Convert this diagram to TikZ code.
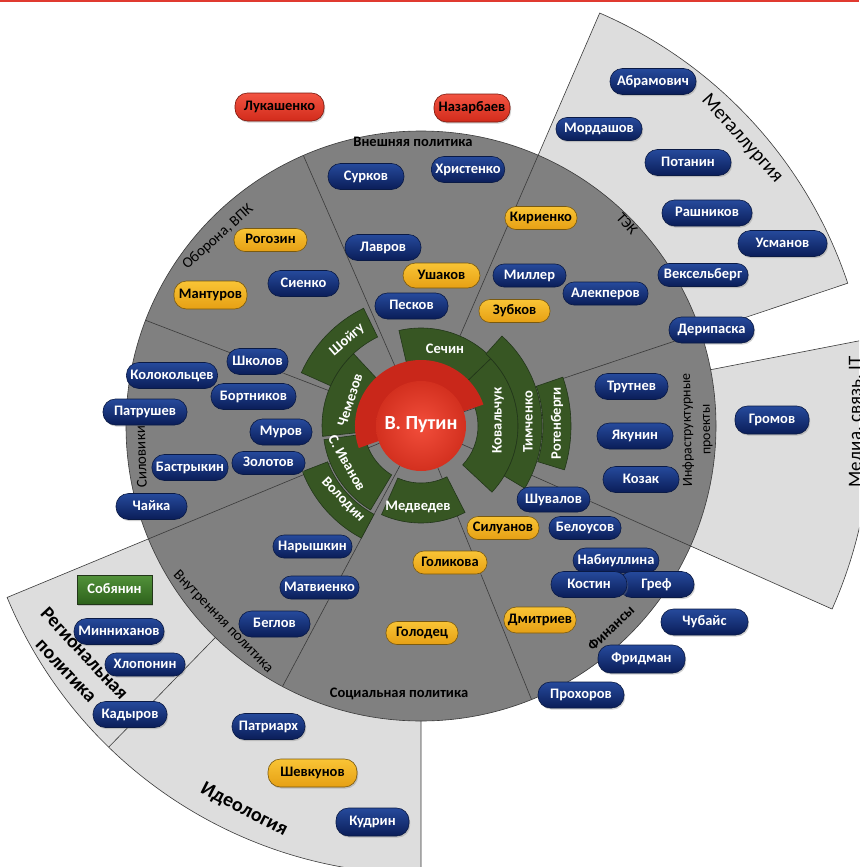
\documentclass[tikz,border=0pt]{standalone}
\usepackage{fontspec}
\setmainfont{Carlito}
\usetikzlibrary{shadows}
\definecolor{bgray}{HTML}{808080}
\definecolor{lgray}{HTML}{DDDDDD}
\definecolor{edgec}{HTML}{3A3A3A}
\definecolor{gfill}{HTML}{375623}
\definecolor{gedge}{HTML}{22361A}
\definecolor{dred}{HTML}{C9271A}
\definecolor{rin}{HTML}{F24E3B}
\definecolor{rout}{HTML}{D3301F}
\definecolor{btop}{HTML}{264A9C}
\definecolor{bbot}{HTML}{0A1D58}
\definecolor{bedge}{HTML}{0A1A45}
\definecolor{ytop}{HTML}{F9C435}
\definecolor{ybot}{HTML}{E6A014}
\definecolor{yedge}{HTML}{7A5A10}
\definecolor{rtop}{HTML}{F25442}
\definecolor{rbot}{HTML}{D22B1B}
\definecolor{redge}{HTML}{7A1A10}
\definecolor{sgtop}{HTML}{52923A}
\definecolor{sgbot}{HTML}{2E621C}
\definecolor{topline}{HTML}{E03A30}
\newcommand\annsec[4]{(#1:#3) arc[start angle=#1,end angle=#2,radius=#3] -- (#2:#4) arc[start angle=#2,end angle=#1,radius=#4] -- cycle}
\tikzset{
  pill/.style={rectangle, rounded corners=12.5pt, minimum height=26pt, inner xsep=4pt, inner ysep=0pt,
    text height=10.5pt, text depth=3pt, font=\fontsize{14.5}{15}\selectfont\bfseries, line width=0.6pt,
    drop shadow={shadow xshift=1.2pt, shadow yshift=-1.6pt, opacity=0.35}},
  sm/.style={minimum height=23pt, rounded corners=11pt},
  bp/.style={pill, draw=bedge, top color=btop, bottom color=bbot, text=white},
  yp/.style={pill, draw=yedge, top color=ytop, bottom color=ybot, text=black},
  rp/.style={pill, draw=redge, top color=rtop, bottom color=rbot, text=black},
  gp/.style={rectangle, draw=gedge, line width=0.6pt, top color=sgtop, bottom color=sgbot, text=white,
    minimum width=75pt, minimum height=29pt, text height=10.5pt, text depth=3pt,
    font=\fontsize{14.5}{15}\selectfont\bfseries,
    drop shadow={shadow xshift=1.2pt, shadow yshift=-1.6pt, opacity=0.35}},
  outersec/.style={fill=lgray, draw=edgec, line width=0.6pt},
  divline/.style={draw=edgec, line width=0.6pt},
  gblock/.style={fill=gfill, draw=gedge, line width=0.6pt},
  gtext/.style={text=white, font=\fontsize{14.5}{15}\selectfont\bfseries, inner sep=0pt},
  lab/.style={text=black, font=\fontsize{15}{17}\selectfont, inner sep=0pt},
  blab/.style={text=black, font=\fontsize{14.5}{16}\selectfont\bfseries, inner sep=0pt},
  biglab/.style={text=black, font=\fontsize{20}{23}\selectfont, inner sep=0pt},
  bigblab/.style={text=black, font=\fontsize{20}{23}\selectfont\bfseries, inner sep=0pt},
}
\begin{document}
\begin{tikzpicture}[x=1pt,y=-1pt]
\useasboundingbox (0,0) rectangle (859,867);
\fill[white] (0,0) rectangle (859,867);
\begin{scope}
\clip (0,0) rectangle (859,867);
\begin{scope}[shift={(421,426)}, y=1pt]
  % outer light sectors
  \filldraw[outersec] (0,0) -- (18.5:450) arc[start angle=18.5, end angle=66.6, radius=450] -- cycle;
  \filldraw[outersec] (0,0) -- (-24:450) arc[start angle=-24, end angle=11, radius=450] -- cycle;
  \filldraw[outersec] (0,0) -- (202.5:448) arc[start angle=202.5, end angle=270, radius=448] -- cycle;
  \draw[divline] (225.8:290) -- (225.8:448);
  % big circle
  \filldraw[fill=bgray, draw=edgec, line width=0.6pt] (0,0) circle[radius=295];
  % dividers
  \foreach \a in {113.5, 66.6, 18.5, -24, -68, 242, 202.5, 159} {
    \draw[divline] (\a:45) -- (\a:295);
  }
  % green blocks
  \filldraw[gblock] \annsec{44}{103}{57}{98};
  \filldraw[gblock] \annsec{-43}{44}{57}{97};
  \filldraw[gblock] \annsec{133}{186}{57}{99};
  \filldraw[gblock] \annsec{188}{239}{57}{98};
  \filldraw[gblock] \annsec{246}{297}{57}{97};
  \filldraw[gblock] \annsec{116}{156}{99}{131};
  \filldraw[gblock] \annsec{201}{242}{100}{127};
  \filldraw[gblock] \annsec{-31}{48}{97}{121};
  \filldraw[gblock] \annsec{-17}{19}{122}{150};
  % red centre
  \fill[dred] \annsec{19}{199.5}{44}{66};
  \shade[inner color=rin, outer color=rout] (0,0) circle[radius=45];
\end{scope}
\node[text=white, font=\fontsize{20}{22}\selectfont\bfseries] (putin) at (421,425) {В. Путин};
% green block texts
\node[gtext] (sechin) at (445,349) {Сечин};
\node[gtext, rotate=90] (kovalchuk) at (498,420) {Ковальчук};
\node[gtext, rotate=90] (timchenko) at (528,422) {Тимченко};
\node[gtext, rotate=90] (rotenberg) at (557,423) {Ротенберги};
\node[gtext, rotate=72] (chemezov) at (350,400) {Чемезов};
\node[gtext, rotate=-60] (sivanov) at (347,463) {С. Иванов};
\node[gtext, rotate=-46] (volodin) at (343,500) {Володин};
\node[gtext] (medvedev) at (418,507) {Медведев};
\node[gtext, rotate=41] (shoigu) at (347,340) {Шойгу};
% sector labels
\node[blab] (lvnesh) at (413,142) {Внешняя политика};
\node[lab, rotate=42] (loborona) at (218,237) {Оборона, ВПК};
\node[lab, rotate=-48] (ltek) at (627,224) {ТЭК};
\node[lab, rotate=91, align=center, font=\fontsize{14}{19}\selectfont] (linfra) at (697,430) {Инфраструктурные\\проекты};
\node[blab, rotate=43] (lfin) at (611,628) {Финансы};
\node[blab] (lsoc) at (399,694) {Социальная политика};
\node[lab, rotate=-46] (lvnutr) at (223,622) {Внутренняя политика};
\node[lab, rotate=92] (lsilov) at (141,457) {Силовики};
\node[biglab, rotate=-48] (lmet) at (742,139) {Металлургия};
\node[bigblab, rotate=-47, align=center, font=\fontsize{19.5}{25}\selectfont\bfseries] (lreg) at (75.5,662) {Региональная\\политика};
\node[bigblab, rotate=-27] (lideo) at (244,810) {Идеология};
\node[biglab, rotate=90, anchor=base, font=\fontsize{19}{23}\selectfont] (lmedia) at (861,422) {Медиа, связь, IT};
% red pills
\node[rp, minimum width=89, minimum height=28] (lukashenko) at (279.5,107) {Лукашенко};
\node[rp, minimum width=76, minimum height=28] (nazarbaev) at (472,108) {Назарбаев};
% blue pills
\node[bp, minimum width=76] (surkov) at (366,176.5) {Сурков};
\node[bp, minimum width=72] (khristenko) at (468,169.5) {Христенко};
\node[bp, minimum width=76] (lavrov) at (383,247.5) {Лавров};
\node[bp, minimum width=73] (peskov) at (411.5,306) {Песков};
\node[bp, minimum width=71] (sienko) at (303.5,283.5) {Сиенко};
\node[bp, minimum width=86] (abramovich) at (653,81.5) {Абрамович};
\node[bp, sm, minimum width=86] (mordashov) at (599,129) {Мордашов};
\node[bp, minimum width=86] (potanin) at (688,162.5) {Потанин};
\node[bp, minimum width=90] (rashnikov) at (707,213) {Рашников};
\node[bp, minimum width=89] (usmanov) at (782.5,243.5) {Усманов};
\node[bp, sm, minimum width=90] (vekselberg) at (703,275) {Вексельберг};
\node[bp, sm, minimum width=85] (alekperov) at (605.5,293.5) {Алекперов};
\node[bp, sm, minimum width=73] (miller) at (529.5,275.5) {Миллер};
\node[bp, minimum width=85] (deripaska) at (711.5,330) {Дерипаска};
\node[bp, minimum width=61] (shkolov) at (257.5,361.5) {Школов};
\node[bp, minimum width=90] (kolokoltsev) at (172,375.5) {Колокольцев};
\node[bp, minimum width=85] (bortnikov) at (253.5,396.5) {Бортников};
\node[bp, minimum width=84] (patrushev) at (145,412) {Патрушев};
\node[bp, minimum width=62] (murov) at (281,432) {Муров};
\node[bp, sm, minimum width=73] (zolotov) at (268.5,463) {Золотов};
\node[bp, minimum width=74] (bastrykin) at (190,467.5) {Бастрыкин};
\node[bp, minimum width=71] (chaika) at (151.5,506.5) {Чайка};
\node[bp, sm, minimum width=79] (naryshkin) at (312.5,546.5) {Нарышкин};
\node[bp, sm, minimum width=79] (matvienko) at (319.5,587.5) {Матвиенко};
\node[bp, minimum width=71] (beglov) at (274.5,624) {Беглов};
\node[gp] (sobyanin) at (114.5,589.5) {Собянин};
\node[bp, minimum width=90] (minnikhanov) at (119,631.5) {Минниханов};
\node[bp, sm, minimum width=80] (khloponin) at (145,664.5) {Хлопонин};
\node[bp, minimum width=74] (kadyrov) at (130,714.5) {Кадыров};
\node[bp, minimum width=73] (patriarkh) at (268.5,726.5) {Патриарх};
\node[bp, minimum width=73, minimum height=28] (kudrin) at (372.5,822) {Кудрин};
\node[bp, sm, minimum width=72] (belousov) at (585,528) {Белоусов};
\node[bp, minimum width=73, minimum height=25] (shuvalov) at (553.5,499.5) {Шувалов};
\node[bp, minimum width=86, minimum height=25] (nabiullina) at (616,560.5) {Набиуллина};
\node[bp, minimum width=75] (gref) at (656.5,584.5) {Греф};
\node[bp, minimum width=76] (kostin) at (589,584.5) {Костин};
\node[bp, minimum width=87] (chubais) at (704.5,622) {Чубайс};
\node[bp, minimum width=87, minimum height=28] (fridman) at (641.5,659) {Фридман};
\node[bp, minimum width=86] (prokhorov) at (581,695) {Прохоров};
\node[bp, minimum width=73] (trutnev) at (631.5,386.5) {Трутнев};
\node[bp, minimum width=76] (yakunin) at (635,436) {Якунин};
\node[bp, minimum width=76] (kozak) at (641,479.5) {Козак};
\node[bp, minimum width=74, minimum height=28] (gromov) at (772,420) {Громов};
% yellow pills
\node[yp, minimum width=77, minimum height=25] (ushakov) at (441.5,275.5) {Ушаков};
\node[yp, sm, minimum width=73] (rogozin) at (270.5,240) {Рогозин};
\node[yp, minimum width=73, minimum height=28] (manturov) at (210.5,295) {Мантуров};
\node[yp, sm, minimum width=72] (kirienko) at (541,218) {Кириенко};
\node[yp, sm, minimum width=71] (zubkov) at (514.5,311) {Зубков};
\node[yp, sm, minimum width=74] (golikova) at (450,562.5) {Голикова};
\node[yp, sm, minimum width=72] (golodets) at (422,633) {Голодец};
\node[yp, sm, minimum width=72] (siluanov) at (503,528) {Силуанов};
\node[yp, minimum width=72] (dmitriev) at (540,620) {Дмитриев};
\node[yp, minimum width=89, minimum height=28] (shevkunov) at (312.5,773) {Шевкунов};
\end{scope}
\draw[topline, line width=2pt] (0,1) -- (859,1);
\end{tikzpicture}
\end{document}
